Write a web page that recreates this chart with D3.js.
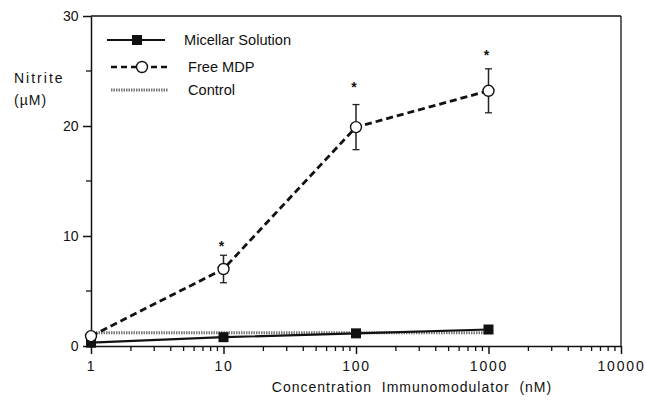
<!DOCTYPE html>
<html>
<head>
<meta charset="utf-8">
<script src="https://cdn.jsdelivr.net/npm/d3@7"></script>
<style>
  body { margin: 0; background: #fff; }
  svg { display: block; font-family: "Liberation Sans", Arial, sans-serif; }
</style>
</head>
<body>
<div id="chart"></div>
<script>
const width = 646;
const height = 404;

// data
const concentrations = [1, 10, 100, 1000];
const micellar = [0.3, 0.8, 1.15, 1.5];
const freeMdp = [0.9, 7.0, 19.9, 23.2];
const freeMdpErr = [0, 1.25, 2.05, 2.0];
const controlLevel = [1.2, 1.2];
const controlRange = [1, 1000];
const starValues = [9.3, 23.7, 26.6];
const starConcs = [10, 100, 1000];
const xTicks = [1, 10, 100, 1000, 10000];
const yTicks = [0, 10, 20, 30];
const yMinor = [5, 15, 25];

const svg = d3.select("#chart").append("svg")
  .attr("width", width)
  .attr("height", height);

const x = d3.scaleLog().domain([1, 10000]).range([91, 621]);
const y = d3.scaleLinear().domain([0, 30]).range([346, 16]);

// frame
svg.append("line").attr("x1", x(1)).attr("x2", x(10000)).attr("y1", y(30)).attr("y2", y(30))
  .attr("stroke", "#111").attr("stroke-width", 1.3);
svg.append("line").attr("x1", x(10000)).attr("x2", x(10000)).attr("y1", y(30)).attr("y2", y(0))
  .attr("stroke", "#111").attr("stroke-width", 1.3);

// x axis
const minorX = [];
for (let d = 1; d < 10000; d *= 10) {
  for (let k = 2; k <= 9; k++) minorX.push(d * k);
}
const xAxis = svg.append("g").attr("transform", `translate(0,${y(0)})`);
xAxis.call(d3.axisBottom(x).tickValues(xTicks).tickSize(8).tickSizeOuter(0).tickFormat(d3.format("d")));
xAxis.append("g").selectAll("line").data(minorX).join("line")
  .attr("x1", (d) => x(d)).attr("x2", (d) => x(d)).attr("y1", 0).attr("y2", 5)
  .attr("stroke", "#111").attr("stroke-width", 1.3);
xAxis.select(".domain").attr("stroke", "#111").attr("stroke-width", 1.5);
xAxis.selectAll(".tick line").attr("stroke", "#111").attr("stroke-width", 1.5);
xAxis.selectAll(".tick text").attr("font-size", 14).attr("fill", "#111")
  .attr("letter-spacing", 1.8).attr("dy", "1.0em");
xAxis.selectAll("text").attr("font-family", "Liberation Sans, Arial, sans-serif");

// y axis
const yAxis = svg.append("g").attr("transform", `translate(${x(1)},0)`);
yAxis.call(d3.axisLeft(y).tickValues(yTicks).tickSize(8).tickSizeOuter(0));
yAxis.append("g").selectAll("line").data(yMinor).join("line")
  .attr("x1", -5).attr("x2", 0).attr("y1", (d) => y(d)).attr("y2", (d) => y(d))
  .attr("stroke", "#111").attr("stroke-width", 1.3);
yAxis.select(".domain").attr("stroke", "#111").attr("stroke-width", 1.5);
yAxis.selectAll(".tick line").attr("stroke", "#111").attr("stroke-width", 1.5);
yAxis.selectAll(".tick text").attr("font-size", 14).attr("fill", "#111")
  .attr("font-family", "Liberation Sans, Arial, sans-serif").attr("dx", "-0.1em");

// axis titles
svg.append("text").attr("x", 14).attr("y", 83).attr("font-size", 14)
  .attr("letter-spacing", 2).attr("fill", "#111").text("Nitrite");
svg.append("text").attr("x", 14).attr("y", 105).attr("font-size", 14)
  .attr("letter-spacing", 1).attr("fill", "#111").text("(µM)");
svg.append("text").attr("x", 412).attr("y", 392).attr("font-size", 14)
  .attr("text-anchor", "middle").attr("letter-spacing", 1).attr("fill", "#111")
  .attr("xml:space", "preserve")
  .text("Concentration  Immunomodulator  (nM)");

// control line
svg.append("line")
  .attr("x1", x(controlRange[0])).attr("x2", x(controlRange[1]))
  .attr("y1", y(controlLevel[0])).attr("y2", y(controlLevel[1]))
  .attr("stroke", "#777").attr("stroke-width", 3).attr("stroke-dasharray", "1.5,1");

// micellar
const mData = concentrations.map((c, i) => ({ c, v: micellar[i] }));
const line = d3.line().x((d) => x(d.c)).y((d) => y(d.v));
svg.append("path").datum(mData).attr("d", line)
  .attr("fill", "none").attr("stroke", "#111").attr("stroke-width", 2.2);
svg.selectAll(".msq").data(mData).join("rect").attr("class", "msq")
  .attr("x", (d) => x(d.c) - 5).attr("y", (d) => y(d.v) - 5)
  .attr("width", 10).attr("height", 10).attr("fill", "#111");

// free MDP
const fData = concentrations.map((c, i) => ({ c, v: freeMdp[i], e: freeMdpErr[i] }));
svg.append("path").datum(fData).attr("d", line)
  .attr("fill", "none").attr("stroke", "#111").attr("stroke-width", 2.8)
  .attr("stroke-dasharray", "7,4");
const eb = svg.selectAll(".err").data(fData.filter((d) => d.e > 0)).join("g").attr("class", "err");
eb.append("line").attr("x1", (d) => x(d.c)).attr("x2", (d) => x(d.c))
  .attr("y1", (d) => y(d.v + d.e)).attr("y2", (d) => y(d.v - d.e))
  .attr("stroke", "#222").attr("stroke-width", 1.5);
eb.selectAll(".cap").data((d) => [d.v + d.e, d.v - d.e].map((v) => ({ c: d.c, v })))
  .join("line").attr("class", "cap")
  .attr("x1", (d) => x(d.c) - 3.5).attr("x2", (d) => x(d.c) + 3.5)
  .attr("y1", (d) => y(d.v)).attr("y2", (d) => y(d.v))
  .attr("stroke", "#222").attr("stroke-width", 1.3);
svg.selectAll(".fc").data(fData).join("circle").attr("class", "fc")
  .attr("cx", (d) => x(d.c)).attr("cy", (d) => y(d.v)).attr("r", 5.5)
  .attr("fill", "#fff").attr("stroke", "#111").attr("stroke-width", 1.4);

// significance stars
svg.selectAll(".star").data(starConcs.map((c, i) => ({ c, v: starValues[i] }))).join("text")
  .attr("class", "star")
  .attr("x", (d) => x(d.c) - 2).attr("y", (d) => y(d.v) + 7)
  .attr("text-anchor", "middle").attr("font-size", 14).attr("font-weight", "bold")
  .attr("fill", "#111").text("*");

// legend
const legend = svg.append("g");
legend.append("line").attr("x1", 107).attr("x2", 165).attr("y1", 40).attr("y2", 40)
  .attr("stroke", "#111").attr("stroke-width", 2.2);
legend.append("rect").attr("x", 132).attr("y", 35).attr("width", 10).attr("height", 10).attr("fill", "#111");
legend.append("text").attr("x", 184).attr("y", 45).attr("font-size", 14.6).attr("fill", "#111").text("Micellar Solution");

legend.append("line").attr("x1", 111).attr("x2", 170).attr("y1", 67).attr("y2", 67)
  .attr("stroke", "#111").attr("stroke-width", 2.5).attr("stroke-dasharray", "6,4");
legend.append("circle").attr("cx", 142).attr("cy", 67).attr("r", 5.5)
  .attr("fill", "#fff").attr("stroke", "#111").attr("stroke-width", 1.4);
legend.append("text").attr("x", 188).attr("y", 72).attr("font-size", 14.6).attr("fill", "#111").text("Free MDP");

legend.append("line").attr("x1", 111).attr("x2", 168).attr("y1", 90).attr("y2", 90)
  .attr("stroke", "#777").attr("stroke-width", 3).attr("stroke-dasharray", "1.5,1");
legend.append("text").attr("x", 188).attr("y", 95).attr("font-size", 14.6).attr("fill", "#111").text("Control");
</script>
</body>
</html>
